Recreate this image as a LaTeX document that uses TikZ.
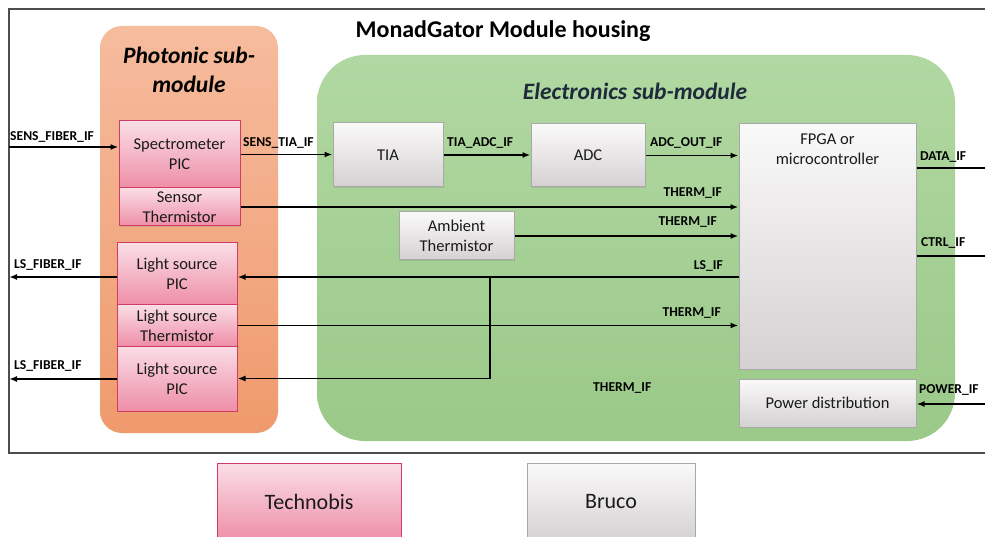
\documentclass[tikz,border=0pt]{standalone}
\usepackage{fontspec}
\setmainfont{Carlito}
\usetikzlibrary{arrows.meta,shadows}
\definecolor{framec}{HTML}{4D4D4D}
\definecolor{orTop}{HTML}{F6BC9E}
\definecolor{orBot}{HTML}{EF9A6C}
\definecolor{grTop}{HTML}{B1D8A2}
\definecolor{grBot}{HTML}{9AC988}
\definecolor{pkTop}{HTML}{FADEE6}
\definecolor{pkBot}{HTML}{EE8EA7}
\definecolor{pkLine}{HTML}{D13C66}
\definecolor{gyTop}{HTML}{FAF9F9}
\definecolor{gyBot}{HTML}{D5D1D2}
\definecolor{gyLine}{HTML}{A8A8A8}
\definecolor{txt}{HTML}{1A1A1A}
\definecolor{eltitle}{HTML}{1F2B3A}
\tikzset{
  pinkbox/.style={draw=pkLine, line width=1pt, top color=pkTop, bottom color=pkBot,
    inner sep=0pt, align=center, text=txt, font=\fontsize{16.5}{20}\selectfont,
    drop shadow={opacity=0.25, shadow xshift=1.2pt, shadow yshift=-1.2pt}},
  graybox/.style={draw=gyLine, line width=1pt, top color=gyTop, bottom color=gyBot,
    inner sep=0pt, align=center, text=txt, font=\fontsize{16.5}{20}\selectfont,
    drop shadow={opacity=0.25, shadow xshift=1.2pt, shadow yshift=-1.2pt}},
  iflabel/.style={font=\fontsize{13.6}{15}\selectfont\bfseries, text=black, inner sep=0pt},
  arr/.style={line width=1.8pt, -{Latex[length=8pt,width=6pt]}},
  wire/.style={line width=1.8pt},
}
\begin{document}
\begin{tikzpicture}[x=1pt,y=-1pt]
\useasboundingbox (0,0) rectangle (985,537);
\clip (0,0) rectangle (985,537);
\fill[white] (0,0) rectangle (985,537);
% housing frame
\draw[framec, line width=1.7pt] (990,9) -- (9,9) -- (9,453) -- (990,453);
\node[font=\fontsize{24}{28}\selectfont\bfseries, inner sep=0pt] (title) at (503,31) {MonadGator Module housing};

% sub-module panels
\node[draw=none, top color=orTop, bottom color=orBot, rounded corners=22pt,
      minimum width=178pt, minimum height=407pt, inner sep=0pt] (phot) at (189,229.5) {};
\node[draw=none, top color=grTop, bottom color=grBot, rounded corners=48pt,
      minimum width=638pt, minimum height=386pt, inner sep=0pt] (elec) at (636,248) {};
\node[font=\fontsize{23.5}{29}\selectfont\bfseries\itshape, align=center, inner sep=0pt] (phtitle) at (189,70) {Photonic sub-\\module};
\node[font=\fontsize{23.5}{27}\selectfont\bfseries\itshape, text=eltitle, inner sep=0pt] (eltitle) at (635,91) {Electronics sub-module};

% photonic blocks
\node[pinkbox, minimum width=121pt, minimum height=67pt] (spec) at (179.5,154.5) {Spectrometer\\PIC};
\node[pinkbox, minimum width=121pt, minimum height=38pt] (sensth) at (179.5,207) {Sensor\\Thermistor};
\node[pinkbox, minimum width=120pt, minimum height=62pt] (lspic1) at (177,274) {Light source\\PIC};
\node[pinkbox, minimum width=120pt, minimum height=41pt] (lsth) at (177,325.5) {Light source\\Thermistor};
\node[pinkbox, minimum width=120pt, minimum height=65pt] (lspic2) at (177,378.5) {Light source\\PIC};

% electronic blocks
\node[graybox, minimum width=110pt, minimum height=64pt] (tia) at (388,155) {TIA};
\node[graybox, minimum width=114pt, minimum height=63pt] (adc) at (588,155.5) {ADC};
\node[graybox, minimum width=177pt, minimum height=245pt] (fpga) at (827.5,246.5) {};
\node[align=center, text=txt, font=\fontsize{16.5}{20}\selectfont, inner sep=0pt] (fpgatxt) at (827.5,149) {FPGA or\\microcontroller};
\node[graybox, minimum width=177pt, minimum height=48pt] (pwr) at (827.5,403) {Power distribution};
\node[graybox, minimum width=115pt, minimum height=48pt] (amb) at (456.5,236) {Ambient\\Thermistor};

% legend
\node[pinkbox, font=\fontsize{22}{25}\selectfont, minimum width=184pt, minimum height=78pt] (techno) at (309,502) {Technobis};
\node[graybox, font=\fontsize{22}{25}\selectfont, minimum width=168pt, minimum height=78pt] (bruco) at (611,502) {Bruco};

% connectors
\coordinate (sfin) at (9,147);
\draw[arr] (sfin) -- (sfin -| spec.west);
\draw[arr] (spec.east) -- (spec.east -| tia.west);
\draw[arr] (tia.east) -- (tia.east -| adc.west);
\draw[arr] (adc.east) -- (adc.east -| fpga.west);
\draw[arr] (sensth.east) -- (sensth.east -| fpga.west);
\draw[arr] (amb.east) -- (amb.east -| fpga.west);
\coordinate (lsout) at (fpga.west |- 0,277);
\draw[arr] (lsout) -- (lsout -| lspic1.east);
\coordinate (br) at (490,277);
\draw[arr] (br) |- (lspic2.east);
\draw[arr] (lsth.east) -- (lsth.east -| fpga.west);
\coordinate (lfo1) at (9,277);
\draw[arr] (lspic1.west |- lfo1) -- (lfo1);
\coordinate (lfo2) at (9,379);
\draw[arr] (lspic2.west |- lfo2) -- (lfo2);
\coordinate (dout) at (985,168);
\draw[wire] (fpga.east |- dout) -- (dout);
\coordinate (cout) at (985,256);
\draw[wire] (fpga.east |- cout) -- (cout);
\coordinate (pin) at (985,404);
\draw[arr] (pin) -- (pin -| pwr.east);

% interface labels
\node[iflabel, anchor=west] (l1) at (10,137) {SENS\_FIBER\_IF};
\node[iflabel, anchor=west] (l2) at (243,142.5) {SENS\_TIA\_IF};
\node[iflabel, anchor=west] (l3) at (447,142.5) {TIA\_ADC\_IF};
\node[iflabel, anchor=west] (l4) at (650,142.5) {ADC\_OUT\_IF};
\node[iflabel, anchor=east] (l5) at (722,193.5) {THERM\_IF};
\node[iflabel, anchor=east] (l6) at (717,222.5) {THERM\_IF};
\node[iflabel, anchor=east] (l7) at (723,266) {LS\_IF};
\node[iflabel, anchor=east] (l8) at (721,313.5) {THERM\_IF};
\node[iflabel, anchor=west] (l9) at (593,388) {THERM\_IF};
\node[iflabel, anchor=west] (l10) at (919,389.5) {POWER\_IF};
\node[iflabel, anchor=west] (l11) at (920,157.5) {DATA\_IF};
\node[iflabel, anchor=west] (l12) at (921,242.5) {CTRL\_IF};
\node[iflabel, anchor=west] (l13) at (14,265) {LS\_FIBER\_IF};
\node[iflabel, anchor=west] (l14) at (14,366) {LS\_FIBER\_IF};
\end{tikzpicture}
\end{document}
